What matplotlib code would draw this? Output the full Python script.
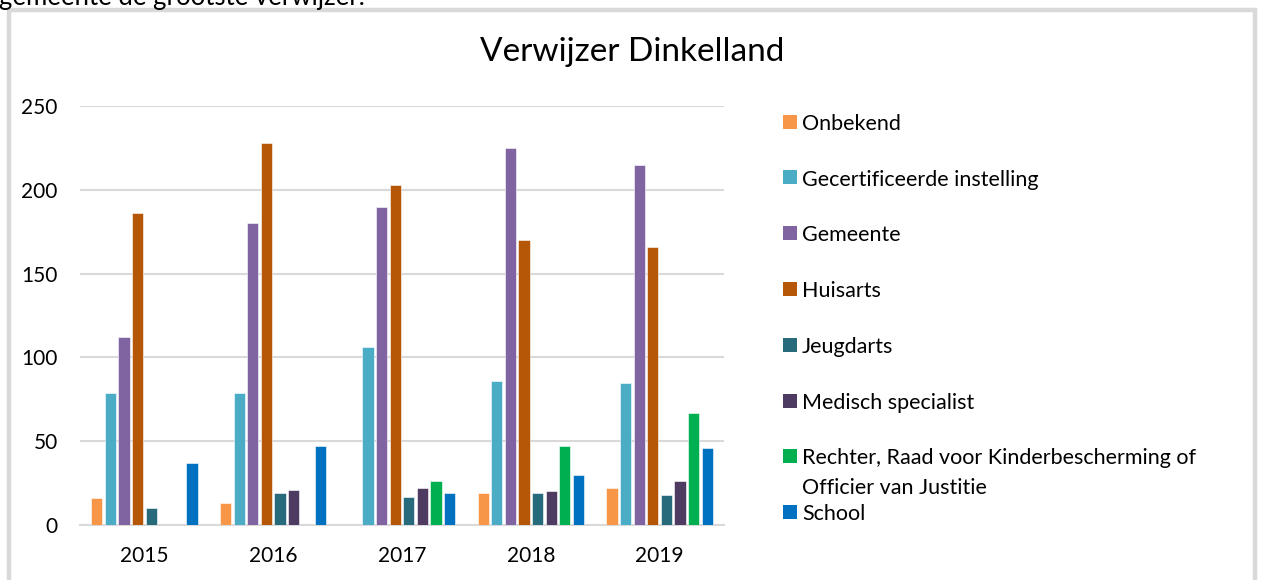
import numpy as np
import matplotlib
matplotlib.use('Agg')
from matplotlib import pyplot as plt
from matplotlib.patches import Rectangle

plt.rcParams['font.family'] = ['Lato', 'DejaVu Sans']

# gegevens
jaren = ['2015', '2016', '2017', '2018', '2019']
namen = ['Onbekend', 'Gecertificeerde instelling', 'Gemeente', 'Huisarts',
         'Jeugdarts', 'Medisch specialist',
         'Rechter, Raad voor Kinderbescherming of\nOfficier van Justitie', 'School']
onbekend = [16, 13, 0, 19, 22]
gecertificeerd = [79, 79, 106, 86, 85]
gemeente = [112, 180, 190, 225, 215]
huisarts = [186, 228, 203, 170, 166]
jeugdarts = [10, 19, 17, 19, 18]
medisch = [0, 21, 22, 20, 26]
rechter = [0, 0, 26, 47, 67]
school = [37, 47, 19, 30, 46]
reeksen = [onbekend, gecertificeerd, gemeente, huisarts, jeugdarts, medisch, rechter, school]
kleuren = ['#F79646', '#4BACC6', '#8064A2', '#B65708', '#276A7C', '#4D3B62', '#00B050', '#0070C0']

W, H = 1262, 580
fig = plt.figure(figsize=(W / 100, H / 100), dpi=100)

# rand om de grafiek
fig.add_artist(Rectangle((8.5 / W, -0.2), (1255 - 8.5) / W, 1.2 - 9.5 / H,
                         transform=fig.transFigure, fill=False,
                         edgecolor='#d9d9d9', linewidth=3.2))

# afgesneden tekst erboven
fig.text(-1 / W, 1 - 4.5 / H, 'gemeente de grootste verwijzer.', fontsize=18.5,
         va='baseline', ha='left', color='black')

ax = fig.add_axes([80 / W, (H - 525) / H, (724 - 80) / W, (525 - 106) / H])
x = np.arange(len(jaren))
stap = 0.1056
for i, (r, k) in enumerate(zip(reeksen, kleuren)):
    ax.bar(x + (i - 3.5) * stap, r, width=0.088, color=k,
           edgecolor='white', linewidth=0.4, zorder=3)

ax.set_xlim(-0.5, 4.5)
ax.set_ylim(0, 250)
ax.set_yticks([0, 50, 100, 150, 200, 250])
ax.set_xticks(x)
ax.set_xticklabels(jaren)
ax.yaxis.grid(True, color='#d9d9d9', linewidth=1.5, zorder=0)
for s in ['top', 'right', 'left']:
    ax.spines[s].set_visible(False)
ax.spines['bottom'].set_color('#d9d9d9')
ax.spines['bottom'].set_linewidth(1.5)
ax.tick_params(length=0, labelsize=15)
ax.tick_params(axis='y', pad=16)
ax.tick_params(axis='x', pad=15)

fig.text(632 / W, 1 - 52 / H, 'Verwijzer Dinkelland', fontsize=24,
         ha='center', va='center')

# legenda
for i, (naam, k) in enumerate(zip(namen, kleuren)):
    yc = 121.7 + i * 55.8
    fig.add_artist(Rectangle((783 / W, 1 - (yc + 7) / H), 14 / W, 14 / H,
                             transform=fig.transFigure, facecolor=k, edgecolor='none'))
    for j, regel in enumerate(naam.split('\n')):
        fig.text(802 / W, 1 - (yc + j * 30) / H, regel, fontsize=15.5,
                 ha='left', va='center_baseline')

fig.savefig('out.png', dpi=100)
